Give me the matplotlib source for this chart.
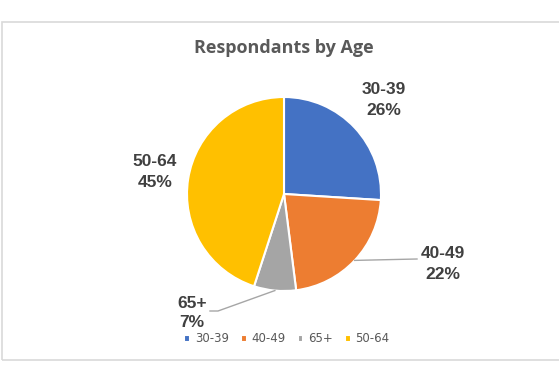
import numpy as np
import matplotlib.pyplot as plt
from matplotlib.patches import Rectangle

# data
groups = ['30-39', '40-49', '65+', '50-64']
shares = [26, 22, 7, 45]
colors = ['#4472C4', '#ED7D31', '#A5A5A5', '#FFC000']

W, H = 559, 378
fig = plt.figure(figsize=(W / 100, H / 100), dpi=100)
ax = fig.add_axes([0, 0, 1, 1])

# chart frame
ax.add_patch(Rectangle((1.5, H - 360), W, 338, fill=False,
                       edgecolor='#d9d9d9', linewidth=1.2))

cx, cy, r = 284, H - 194, 97
wedges, _ = ax.pie(shares, colors=colors, startangle=90, counterclock=False,
                   center=(cx, cy), radius=r, frame=True,
                   wedgeprops=dict(edgecolor='white', linewidth=1.5))
ax.set_xlim(0, W)
ax.set_ylim(0, H)
ax.set_aspect('equal')
ax.axis('off')

lab = dict(ha='center', va='center', fontsize=12.5, fontweight='bold',
           color='#404040', family='Liberation Sans', linespacing=1.45)

def edge_point(w):
    mid = np.deg2rad((w.theta1 + w.theta2) / 2)
    return cx + r * np.cos(mid), cy + r * np.sin(mid)

# 30-39
ax.text(384, H - 100, f'{groups[0]}\n{shares[0]}%', **lab)
# 40-49 with leader
x0, y0 = edge_point(wedges[1])
ax.plot([x0, 417], [y0, H - 259], color='#a6a6a6', lw=1)
ax.text(443, H - 264, f'{groups[1]}\n{shares[1]}%', **lab)
# 65+ with leader
x0, y0 = edge_point(wedges[2])
ax.plot([x0, 218, 210], [y0, H - 311, H - 311], color='#a6a6a6', lw=1)
ax.text(192, H - 313, f'{groups[2]}\n{shares[2]}%',
        **{**lab, 'linespacing': 1.3})
# 50-64
ax.text(155, H - 172, f'{groups[3]}\n{shares[3]}%', **lab)

ax.text(284, H - 48, 'Respondants by Age', ha='center', va='center',
        fontsize=13, fontweight='bold', color='#595959', family='Open Sans')

leg = ax.legend(wedges, groups, loc='center', bbox_to_anchor=(287 / W, 1 - 339 / H),
                ncol=4, frameon=False, fontsize=8.5, handlelength=0.5, handleheight=0.5,
                handletextpad=0.4, columnspacing=1.0, borderaxespad=0)
for t in leg.get_texts():
    t.set_color('#595959')

fig.savefig('out.png', dpi=100)
